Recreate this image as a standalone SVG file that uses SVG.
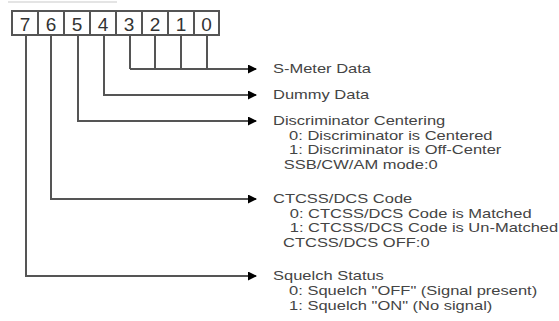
<svg xmlns="http://www.w3.org/2000/svg" width="559" height="321" viewBox="0 0 559 321">
<style>
.cell{fill:#fff;stroke:#555;stroke-width:2}
.dig{font-family:"Liberation Sans",Arial,sans-serif;font-size:19px;fill:#333;text-anchor:middle}
.ln{fill:none;stroke:#555;stroke-width:2}
.t{font-family:"Liberation Sans",Arial,sans-serif;font-size:12.5px;fill:#444}
</style>
<defs>
<marker id="ah" markerWidth="10" markerHeight="10" refX="8" refY="4.5" orient="auto" markerUnits="userSpaceOnUse">
<path d="M0,0 L9,4.5 L0,9 Z" fill="#000"/>
</marker>
</defs>
<rect x="0" y="0" width="559" height="321" fill="#fff"/>
<line x1="8" y1="2" x2="117" y2="2" stroke="#e4e4e4" stroke-width="2"/>
<g id="register">
<rect class="cell" x="12" y="11" width="26" height="24"/>
<rect class="cell" x="38" y="11" width="26" height="24"/>
<rect class="cell" x="64" y="11" width="26" height="24"/>
<rect class="cell" x="90" y="11" width="26" height="24"/>
<rect class="cell" x="116" y="11" width="26" height="24"/>
<rect class="cell" x="142" y="11" width="26" height="24"/>
<rect class="cell" x="168" y="11" width="26" height="24"/>
<rect class="cell" x="194" y="11" width="25" height="24"/>
<text class="dig" x="25" y="31">7</text>
<text class="dig" x="51" y="31">6</text>
<text class="dig" x="77" y="31">5</text>
<text class="dig" x="103" y="31">4</text>
<text class="dig" x="129" y="31">3</text>
<text class="dig" x="155" y="31">2</text>
<text class="dig" x="181" y="31">1</text>
<text class="dig" x="206.5" y="31">0</text>
</g>
<g id="connectors">
<path class="ln" d="M130,35 V69 M155,35 V69 M181,35 V69 M207,35 V69"/>
<path class="ln" d="M130,69 H256" marker-end="url(#ah)"/>
<path class="ln" d="M104,35 V95 H256" marker-end="url(#ah)"/>
<path class="ln" d="M78,35 V121 H256" marker-end="url(#ah)"/>
<path class="ln" d="M51,35 V199 H256" marker-end="url(#ah)"/>
<path class="ln" d="M26,35 V276 H256" marker-end="url(#ah)"/>
</g>
<g id="labels" transform="matrix(1.32 0 0 1 0 0)">
<g id="smeter"><text class="t" x="206.8" y="73.5">S-Meter Data</text></g>
<g id="dummy"><text class="t" x="206.8" y="99.5">Dummy Data</text></g>
<g id="disc">
<text class="t" x="206.8" y="125">Discriminator Centering</text>
<text class="t" x="219" y="140">0: Discriminator is Centered</text>
<text class="t" x="219" y="154.5">1: Discriminator is Off-Center</text>
<text class="t" x="215" y="169">SSB/CW/AM mode:0</text>
</g>
<g id="ctcss">
<text class="t" x="206.8" y="203">CTCSS/DCS Code</text>
<text class="t" x="219.5" y="218">0: CTCSS/DCS Code is Matched</text>
<text class="t" x="219.5" y="232.5">1: CTCSS/DCS Code is Un-Matched</text>
<text class="t" x="214.4" y="247">CTCSS/DCS OFF:0</text>
</g>
<g id="squelch">
<text class="t" x="206.8" y="280.5">Squelch Status</text>
<text class="t" x="219" y="295.5">0: Squelch "OFF" (Signal present)</text>
<text class="t" x="219" y="310">1: Squelch "ON" (No signal)</text>
</g>
</g>
</svg>
